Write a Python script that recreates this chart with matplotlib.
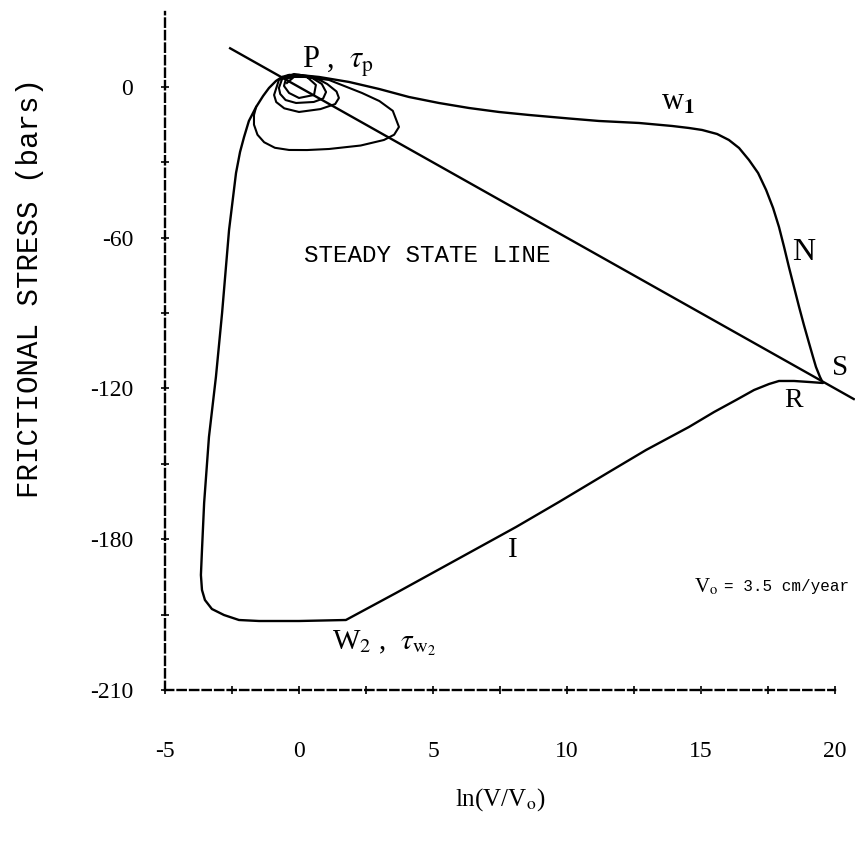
import matplotlib
matplotlib.use("Agg")
import matplotlib.pyplot as plt

plt.rcParams["mathtext.fontset"] = "stix"

# Limit cycle of the slider in the (ln(V/Vo), stress) plane
cycle_x = [-0.63, -0.37, 0.00, 0.75, 1.87, 2.99, 4.10, 5.22, 6.34, 7.46, 8.58,
           10.07, 11.19, 12.69, 13.92, 14.55, 15.04, 15.60, 16.04, 16.42, 16.79,
           17.13, 17.43, 17.69, 17.91, 18.10, 18.28, 18.47, 18.66, 18.84, 19.03,
           19.18, 19.29, 19.44, 19.55, 19.03, 18.47, 17.91, 17.54, 16.98, 16.31,
           15.49, 14.55, 12.95, 11.57, 9.70, 8.10, 5.86, 3.62, 1.75, 0.00, -1.49,
           -2.24, -2.80, -3.25, -3.51, -3.62, -3.66, -3.62, -3.54, -3.36, -3.10,
           -2.87, -2.61, -2.35, -2.20, -2.05, -1.87, -1.60, -1.34, -1.12, -0.86,
           -0.63]
cycle_y = [3.98, 4.78, 4.78, 3.98, 1.99, -0.80, -3.98, -6.37, -8.36, -9.95,
           -11.14, -12.54, -13.53, -14.33, -15.52, -16.32, -17.11, -18.71, -21.09,
           -24.28, -29.05, -34.23, -40.99, -48.16, -55.72, -63.68, -71.64, -79.60,
           -87.56, -94.73, -101.89, -107.46, -111.44, -115.42, -117.81, -117.41,
           -117.01, -117.01, -118.21, -120.60, -124.58, -129.35, -135.32, -144.48,
           -153.23, -165.17, -175.12, -188.26, -201.39, -212.14, -212.54, -212.54,
           -212.14, -210.15, -207.76, -204.18, -200.20, -194.23, -184.28, -165.57,
           -139.30, -115.42, -89.95, -56.92, -34.23, -25.87, -19.90, -13.53, -7.96,
           -3.58, -0.40, 2.39, 3.98]

# Initial spiral growing out of the steady state point P
spiral_x = [-0.45, -0.19, 0.30, 0.63, 0.56, 0.00, -0.37, -0.56,
            -0.49, 0.00, 0.49, 0.85, 1.01, 0.90, 0.55, -0.11, -0.50, -0.70,
            -0.75, -0.63,
            -0.19, 0.56, 1.05, 1.40, 1.49, 1.35, 0.80, 0.00, -0.55, -0.85,
            -0.93, -0.75,
            -0.37, 1.12, 2.35, 3.00, 3.50, 3.73, 3.55, 3.17, 2.30, 1.12, 0.30,
            -0.37, -0.90, -1.30, -1.55, -1.68, -1.68, -1.60]
spiral_y = [1.59, 3.98, 3.98, 0.80, -3.18, -4.38, -2.39, 0.40,
            3.18, 4.78, 3.58, 1.20, -2.00, -4.60, -5.97, -6.37, -5.20, -2.80,
            -0.40, 3.18,
            5.17, 3.98, 1.20, -1.80, -4.38, -6.80, -8.80, -9.95, -8.50, -6.00,
            -3.18, 2.79,
            4.78, 2.79, -2.39, -5.60, -9.50, -15.92, -19.00, -21.09, -23.30,
            -24.68, -25.10, -25.07, -24.20, -22.00, -19.00, -15.00, -11.14,
            -7.96]

# Steady state line
steady_x = [-2.57, 20.7]
steady_y = [15.4, -124.2]

x_ticks = [-5, 0, 5, 10, 15, 20]
x_tick_labels = ["-5", "0", "5", "10", "15", "20"]
x_minor = [-2.5, 2.5, 7.5, 12.5, 17.5]
y_ticks = [0, -60, -120, -180, -240]
y_tick_labels = ["0", "-60", "-120", "-180", "-210"]
y_minor = [-30, -90, -150, -210]

fig = plt.figure(figsize=(8.55, 8.51), dpi=100)
ax = fig.add_axes([165 / 855, 161 / 851, 670 / 855, 678.4 / 851])
ax.set_xlim(-5, 20)
ax.set_ylim(-240, 30)

ax.plot(cycle_x, cycle_y, color="black", lw=1.7, solid_joinstyle="round",
        solid_capstyle="round", clip_on=False)
ax.plot(spiral_x, spiral_y, color="black", lw=1.5, solid_joinstyle="round",
        clip_on=False)
ax.plot(steady_x, steady_y, color="black", lw=1.7, clip_on=False)

for side in ["top", "right"]:
    ax.spines[side].set_visible(False)
for side in ["left", "bottom"]:
    ax.spines[side].set_linestyle((0, (3.5, 1.8)))
    ax.spines[side].set_linewidth(1.7)
ax.spines["left"].set_bounds(-240, 30)

ax.set_xticks(x_ticks)
ax.set_xticklabels(x_tick_labels)
ax.set_xticks(x_minor, minor=True)
ax.set_yticks(y_ticks)
ax.set_yticklabels(y_tick_labels)
ax.set_yticks(y_minor, minor=True)
ax.tick_params(which="both", direction="inout", length=6, width=1.2)
ax.tick_params(axis="x", which="major", pad=34)
ax.tick_params(axis="y", which="major", pad=20)
for lab in ax.get_xticklabels() + ax.get_yticklabels():
    lab.set_fontfamily("Liberation Serif")
    lab.set_fontsize(17)

serif = "Liberation Serif"
mono = "Liberation Mono"

ax.text(0.1, 10, r"P ,  $\tau_{\mathrm{p}}$", fontsize=22, family=serif,
        va="center", ha="left")
ax.text(13.5, -6.0, r"w$_{\mathbf{1}}$", fontsize=22, family=serif,
        va="center", ha="left")
ax.text(18.84, -65.7, "N", fontsize=23, family=serif, va="center", ha="center")
ax.text(20.19, -111.8, "S", fontsize=21, family=serif, va="center",
        ha="center")
ax.text(18.47, -124.6, "R", fontsize=20, family=serif, va="center",
        ha="center")
ax.text(7.99, -184.3, "I", fontsize=21, family=serif, va="center", ha="center")
ax.text(1.23, -221.3, r"W$_2$ ,  $\tau_{\mathrm{w}_2}$", fontsize=21,
        family=serif, va="center", ha="left")
ax.text(0.19, -66.9, "STEADY STATE LINE", fontsize=17.5, family=mono,
        va="center", ha="left")
ax.text(14.74, -199, r"V$_\mathrm{o}$", fontsize=15, family=serif,
        va="center", ha="left")
ax.text(15.85, -199, "= 3.5 cm/year", fontsize=11.5, family=mono,
        va="center", ha="left")

fig.text(30 / 855, 1 - 288 / 851, "FRICTIONAL STRESS (bars)", rotation=90,
         fontsize=21, family=mono, va="center", ha="center")
fig.text(500 / 855, 1 - 800 / 851, r"ln(V/V$_\mathrm{o}$)", fontsize=18,
         family=serif, va="center", ha="center")

fig.savefig("out.png", dpi=100)
